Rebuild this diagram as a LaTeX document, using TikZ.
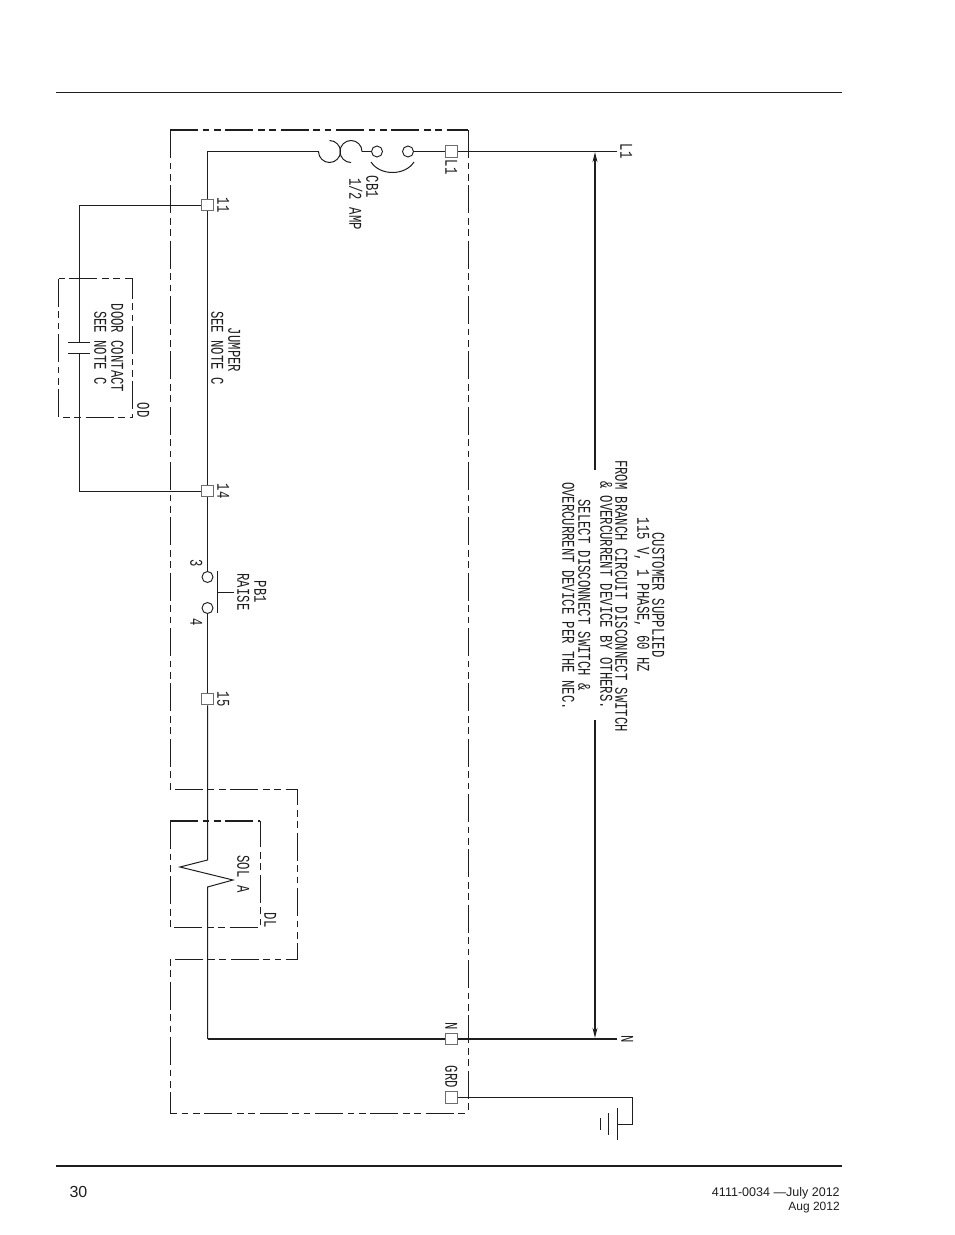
\documentclass[tikz,border=0pt]{standalone}
\usepackage{fontspec}
\setmainfont{Liberation Sans}
\newfontfamily\cadfont[FakeStretch=0.68]{Liberation Mono}
\usepackage{xcolor}
\usetikzlibrary{arrows.meta}
\definecolor{inkblack}{RGB}{30,30,30}
\tikzset{%
    terminal/.style={draw=inkblack!65, line width=0.8pt, fill=white, minimum size=8.6pt, inner sep=0pt},
    contact/.style={draw=inkblack, line width=0.7pt, circle, fill=white, minimum size=8.25pt, inner sep=0pt},
    wire/.style={draw=inkblack, line width=0.75pt},
    heavywire/.style={draw=inkblack, line width=1.6pt},
    boxline/.style={draw=inkblack, line width=0.75pt, dash pattern=on 21pt off 3.5pt on 5pt off 3.5pt on 5pt off 3.5pt},
    heavybox/.style={boxline, line width=1.5pt},
    cadtext/.style={inner sep=0pt, rotate=-90, text=inkblack, text height=8.6pt, text depth=0pt, font=\cadfont\fontsize{13.5}{13.5}\selectfont},
    pagetext/.style={inner sep=0pt, text=inkblack}
}
\begin{document}
\begin{tikzpicture}[x=0.75pt,y=-0.75pt,>={Stealth[length=7.5pt,width=3.6pt]}]
    \useasboundingbox (0,0) rectangle (954,1235);
%-----------------------------------------------
    \coordinate (headL) at (56,92.5);
    \coordinate (headR) at (842,92.5);
    \coordinate (footL) at (56,1166);
    \coordinate (footR) at (842,1166);
    \draw[wire] (headL)--(headR);
    \draw[heavywire] (footL)--(footR);
    \node[pagetext,font=\fontsize{12}{12}\selectfont] (pagenum) at (78.5,1192) {30};
    \node[pagetext,anchor=east,font=\fontsize{9.4}{9.4}\selectfont] (docnum) at (840,1193) {4111-0034 ---July 2012};
    \node[pagetext,anchor=east,font=\fontsize{9}{9}\selectfont] (docdate) at (840,1208) {Aug 2012};
%-----------------------------------------------
    \draw[heavybox] (170,130) -- (468,130);
    \draw[boxline] (170,130) -- (170,789) -- (297.5,789) -- (297.5,959.5) -- (170,959.5) -- (170,1113.5) -- (468,1113.5);
    \draw[boxline] (468,130) -- (468,1113.5);
    \draw[heavybox] (170,821) -- (260,821);
    \draw[boxline] (170,821) -- (170,927.5) -- (260,927.5) -- (260,821);
    \draw[boxline] (58.5,278.5) -- (58.5,417.5) -- (132.5,417.5) -- (132.5,278.5) -- (58.5,278.5);
%-----------------------------------------------
    \node[terminal] (tL1) at (451.5,151.5) {};
    \node[terminal] (t11) at (207.5,205) {};
    \node[terminal] (t14) at (207.5,491) {};
    \node[terminal] (t15) at (207.5,699) {};
    \node[terminal] (tN) at (451.5,1039) {};
    \node[terminal] (tGRD) at (451.5,1097.5) {};
    \node[contact] (cbA) at (377,151.5) {};
    \node[contact] (cbB) at (408,151.5) {};
    \node[contact] (pbA) at (207.5,577) {};
    \node[contact] (pbB) at (207.5,608) {};
%-----------------------------------------------
    \coordinate (cbIn) at (318.5,151.5);
    \coordinate (cbOut) at (362,151.5);
    \coordinate (lineL1) at (617,151.5);
    \coordinate (lineN) at (617,1039);
    \coordinate (odTop) at (79.5,342.5);
    \coordinate (odBot) at (79.5,353.5);
    \coordinate (solTop) at (207.5,860);
    \coordinate (solA) at (180,867);
    \coordinate (solB) at (233,880);
    \coordinate (solBot) at (207.5,887);
    \coordinate (neutral) at (207.5,1039);
    \coordinate (gndCorner) at (632.5,1097.5);
    \coordinate (gndTap) at (617,1124);
%-----------------------------------------------
    \draw[wire] (t11) |- (cbIn);
    \draw[wire] (329.5,140.5) arc[start angle=90,end angle=-180,radius=8.25pt];
    \draw[wire] (351,162.5) arc[start angle=-90,end angle=-360,radius=8.25pt];
    \draw[wire] (cbOut)--(cbA);
    \draw[wire] (371,162) .. controls (380,176) and (405,176) .. (414,162);
    \draw[wire] (cbB)--(tL1);
    \draw[wire] (tL1)--(lineL1);
    \draw[wire] (t11)--(t14);
    \draw[wire] (t14)--(pbA);
    \draw[wire] (pbB)--(t15);
    \draw[wire] (t15)--(solTop)--(solA)--(solB)--(solBot)--(neutral);
    \draw[heavywire] (neutral)--(tN);
    \draw[heavywire] (tN)--(lineN);
    \draw[wire] (t11) -| (odTop);
    \draw[wire] (t14) -| (odBot);
    \draw[wire] (tGRD) -- (gndCorner) |- (gndTap);
%-----------------------------------------------
    \draw[wire] (68,342.5)--(90,342.5);
    \draw[wire] (68,353.5)--(90,353.5);
    \draw[wire] (217.5,571)--(217.5,613);
    \draw[wire] (217.5,592.5)--(234,592.5);
    \draw[wire] (617,1108)--(617,1140);
    \draw[wire] (608.5,1113)--(608.5,1135);
    \draw[wire] (600.5,1118)--(600.5,1130);
%-----------------------------------------------
    \coordinate (spanTop) at (595,152);
    \coordinate (spanUp) at (595,470);
    \coordinate (spanLow) at (595,720);
    \coordinate (spanBot) at (595,1038);
    \draw[->,heavywire] (spanUp)--(spanTop);
    \draw[->,heavywire] (spanLow)--(spanBot);
%-----------------------------------------------
    \node[cadtext] (lblL1) at (451,167) {L1};
    \node[cadtext] (lblLineL1) at (626,151) {L1};
    \node[cadtext] (lblCB) at (372,187) {CB1};
    \node[cadtext] (lblAmp) at (355,204) {1/2 AMP};
    \node[cadtext] (lbl11) at (223,205) {11};
    \node[cadtext] (lbl14) at (223,491) {14};
    \node[cadtext] (lbl15) at (223,699) {15};
    \node[cadtext] (lblJump) at (234,350) {JUMPER};
    \node[cadtext] (lblJumpNote) at (217,348) {SEE NOTE C};
    \node[cadtext] (lblDoor) at (117,348) {DOOR CONTACT};
    \node[cadtext] (lblDoorNote) at (100,348) {SEE NOTE C};
    \node[cadtext] (lblOD) at (143,410) {OD};
    \node[cadtext] (lbl3) at (196,563) {3};
    \node[cadtext] (lbl4) at (196,622) {4};
    \node[cadtext] (lblRaise) at (243,592) {RAISE};
    \node[cadtext] (lblPB) at (260,592) {PB1};
    \node[cadtext] (lblSol) at (243,874) {SOL A};
    \node[cadtext] (lblDL) at (270,920) {DL};
    \node[cadtext] (lblN) at (451,1026) {N};
    \node[cadtext] (lblLineN) at (627,1039) {N};
    \node[cadtext] (lblGRD) at (451,1077) {GRD};
%-----------------------------------------------
    \node[cadtext] (noteA) at (658,595) {CUSTOMER SUPPLIED};
    \node[cadtext] (noteB) at (643,595) {115 V, 1 PHASE, 60 HZ};
    \node[cadtext] (noteC) at (621,596) {FROM BRANCH CIRCUIT DISCONNECT SWITCH};
    \node[cadtext] (noteD) at (606,595) {\& OVERCURRENT DEVICE BY OTHERS.};
    \node[cadtext] (noteE) at (584,595) {SELECT DISCONNECT SWITCH \&};
    \node[cadtext] (noteF) at (568,596) {OVERCURRENT DEVICE PER THE NEC.};
\end{tikzpicture}
\end{document}
